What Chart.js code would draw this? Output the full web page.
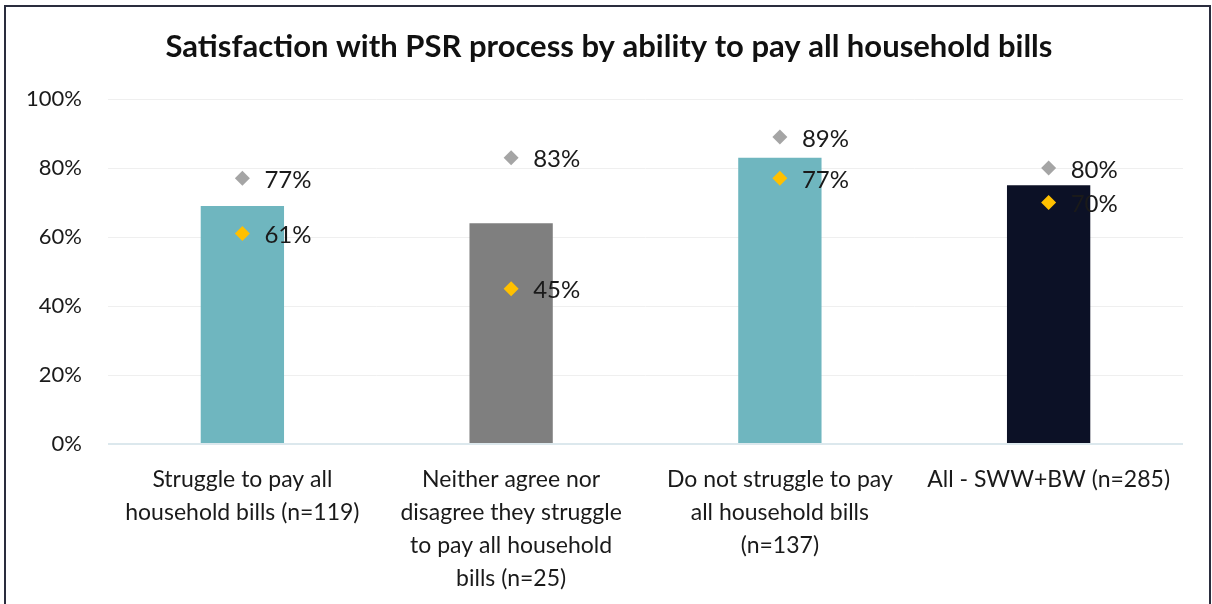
<!DOCTYPE html>
<html>
<head>
<meta charset="utf-8">
<script src="https://cdn.jsdelivr.net/npm/chart.js@4.4.1/dist/chart.umd.min.js"></script>
<style>
  html, body { margin: 0; padding: 0; background: #fff; }
  #wrap { position: relative; width: 1212px; height: 604px; overflow: hidden; }
  #frame { position: absolute; left: 4px; top: 5px; width: 1203px; height: 640px;
           border: 2px solid #2a2d3e; pointer-events: none; }
</style>
</head>
<body>
<div id="wrap">
  <canvas id="psrChart" width="1212" height="604"></canvas>
  <div id="frame"></div>
</div>
<script>
let categories = [
    ['Struggle to pay all', 'household bills (n=119)'],
    ['Neither agree nor', 'disagree they struggle', 'to pay all household', 'bills (n=25)'],
    ['Do not struggle to pay', 'all household bills', '(n=137)'],
    'All - SWW+BW (n=285)'
];
let barValues = [69, 64, 83, 75];
let barColors = ['#6fb6bf', '#7f7f7f', '#6fb6bf', '#0c1126'];
let greyValues = [77, 83, 89, 80];
let yellowValues = [61, 45, 77, 70];
let yTicks = [0, 20, 40, 60, 80, 100];
let chartTitle = 'Satisfaction with PSR process by ability to pay all household bills';

const FONT = 'Lato, "Open Sans", sans-serif';

// title centred on the frame rather than on the plot
const frameTitle = {
    id: 'frameTitle',
    afterDraw(chart) {
        let ctx = chart.ctx;
        ctx.save();
        ctx.font = 'bold 31px ' + FONT;
        ctx.fillStyle = '#111';
        ctx.textAlign = 'center';
        ctx.textBaseline = 'middle';
        ctx.fillText(chartTitle, 609, 47);
        ctx.restore();
    }
};

// writes the value next to every diamond marker
const pointLabels = {
    id: 'pointLabels',
    afterDatasetsDraw(chart) {
        let ctx = chart.ctx;
        ctx.save();
        ctx.font = '24px ' + FONT;
        ctx.fillStyle = '#1a1a1a';
        ctx.textBaseline = 'middle';
        ctx.textAlign = 'left';
        chart.data.datasets.forEach((ds, i) => {
            if (ds.type !== 'line') return;
            chart.getDatasetMeta(i).data.forEach((pt, j) => {
                ctx.fillText(ds.data[j] + '%', pt.x + 22, pt.y + 2);
            });
        });
        ctx.restore();
    }
};

let canvas = document.getElementById('psrChart').getContext('2d');
let psrChart = new Chart(canvas, {
    type: 'bar',
    data: {
        labels: categories,
        datasets: [
            {
                type: 'line',
                label: 'grey',
                data: greyValues,
                showLine: false,
                pointStyle: 'rectRot',
                pointRadius: 7.5,
                backgroundColor: '#a5a5a5',
                borderColor: '#a5a5a5',
                borderWidth: 0,
                order: 1
            },
            {
                type: 'line',
                label: 'yellow',
                data: yellowValues,
                showLine: false,
                pointStyle: 'rectRot',
                pointRadius: 7.5,
                backgroundColor: '#ffc000',
                borderColor: '#ffc000',
                borderWidth: 0,
                order: 0
            },
            {
                label: 'bars',
                data: barValues,
                backgroundColor: barColors,
                barPercentage: 0.31,
                categoryPercentage: 1,
                order: 2
            }
        ]
    },
    options: {
        responsive: false,
        animation: false,
        layout: { padding: { top: 99, left: 0, right: 29, bottom: 0 } },
        plugins: {
            legend: { display: false },
            tooltip: { enabled: false },
            title: { display: false }
        },
        scales: {
            x: {
                grid: { display: false },
                border: { display: false },
                ticks: {
                    color: '#1a1a1a',
                    font: { family: FONT, size: 23, lineHeight: 1.43 },
                    maxRotation: 0,
                    autoSkip: false,
                    padding: 11
                },
                afterFit: s => { s.height = 160; }
            },
            y: {
                min: 0,
                max: 100,
                afterBuildTicks: s => { s.ticks = yTicks.map(v => ({ value: v })); },
                grid: {
                    color: c => c.tick.value === 0 ? '#dce8ed' : '#efefef',
                    lineWidth: c => c.tick.value === 0 ? 2 : 1,
                    drawTicks: false
                },
                border: { display: false },
                ticks: {
                    color: '#1a1a1a',
                    font: { family: FONT, size: 22 },
                    padding: 26,
                    callback: v => v + '%'
                },
                afterFit: s => { s.width = 108; }
            }
        }
    },
    plugins: [pointLabels, frameTitle]
});
</script>
</body>
</html>
